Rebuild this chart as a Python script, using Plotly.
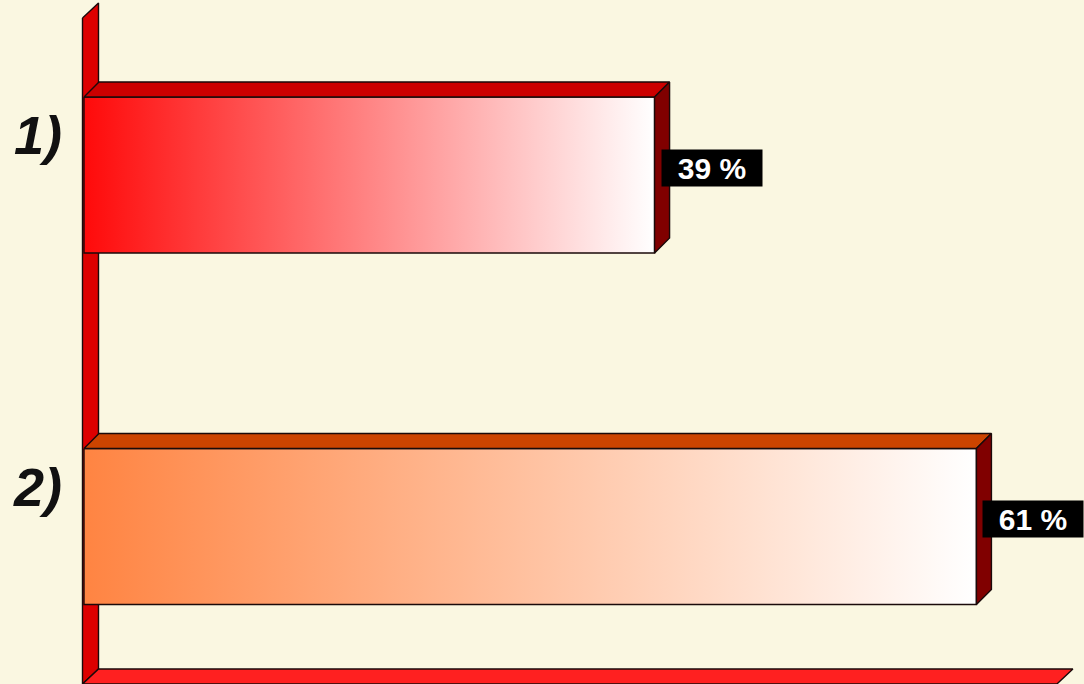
import plotly.graph_objects as go

# ---- data ----
categories = ["1)", "2)"]
values = [39, 61]
value_labels = ["39 %", "61 %"]

# ---- styles ----
front_start_colors = ["#FF0A0A", "#FF8442"]
front_end_color = "#FFFFFF"
top_colors = ["#CC0000", "#CC4400"]
side_color = "#800000"
wall_color = "#DD0000"
floor_color = "#FF2020"
bg_color = "#FAF7E1"

W, H = 1084, 684
X0 = 84.0       # pixel position of value 0
S = 14.63       # pixels per unit on the value axis
Y0 = 175.0      # pixel centre of the first category
DYC = 351.5     # pixels per category step
BAR_HALF = 78 / DYC
DX = 15 / S     # 3D depth (x)
DY = 15 / DYC   # 3D depth (y)
AXIS_MAX = 66.5

x_range = [-X0 / S, (W - X0) / S]
y_range = [(H - Y0) / DYC, -Y0 / DYC]  # reversed

fig = go.Figure()


def poly(xs, ys, fill=None, grad=None, lw=1.4):
    kw = dict(x=xs + [xs[0]], y=ys + [ys[0]], mode="lines", fill="toself",
              line=dict(color="#1A0A0A", width=lw), hoverinfo="skip",
              showlegend=False)
    if grad is not None:
        kw["fillgradient"] = dict(type="horizontal", colorscale=grad)
    else:
        kw["fillcolor"] = fill
    fig.add_trace(go.Scatter(**kw))


# wall and floor
wx = -1.5 / S
wall_top = (18 - Y0) / DYC
floor_front = (684 - Y0) / DYC
floor_back = floor_front - DY
wdx = 16 / S
poly([wx, wx + wdx, wx + wdx, wx],
     [wall_top, wall_top - DY, floor_back, floor_front], fill=wall_color)
poly([wx, wx + wdx, AXIS_MAX + wdx, AXIS_MAX],
     [floor_front, floor_back, floor_back, floor_front], fill=floor_color)

# bars
for i, (cat, v) in enumerate(zip(categories, values)):
    yt = i - BAR_HALF
    yb = i + BAR_HALF
    poly([0, v, v, 0], [yt, yt, yb, yb],
         grad=[[0, front_start_colors[i]], [1, front_end_color]])
    poly([0, DX, v + DX, v], [yt, yt - DY, yt - DY, yt], fill=top_colors[i])
    poly([v, v + DX, v + DX, v], [yt, yt - DY, yb - DY, yb], fill=side_color)

annotations = []
for i, (cat, v, lab) in enumerate(zip(categories, values, value_labels)):
    annotations.append(dict(
        x=(64 - X0) / S, y=i - 40 / DYC, xref="x", yref="y",
        text=cat, showarrow=False, xanchor="right", yanchor="middle",
        font=dict(family="Liberation Sans, Arial", size=54, color="#111111",
                  weight="bold", style="italic")))
    annotations.append(dict(
        x=v + 6 / S, y=i - 7.5 / DYC, xref="x", yref="y",
        text=lab, showarrow=False, xanchor="left", yanchor="middle",
        bgcolor="#000000", borderpad=0, width=100, height=36,
        font=dict(family="Liberation Sans, Arial", size=30, color="#FFFFFF",
                  weight="bold")))

fig.update_layout(
    width=W, height=H,
    margin=dict(l=0, r=0, t=0, b=0),
    paper_bgcolor=bg_color, plot_bgcolor=bg_color,
    xaxis=dict(range=x_range, visible=False, fixedrange=True),
    yaxis=dict(range=y_range, visible=False, fixedrange=True),
    annotations=annotations,
    showlegend=False,
)

fig.write_html(
    "out.html",
    config={"displayModeBar": False},
    post_script="document.body.style.margin='0';document.body.style.overflow='hidden';",
)
